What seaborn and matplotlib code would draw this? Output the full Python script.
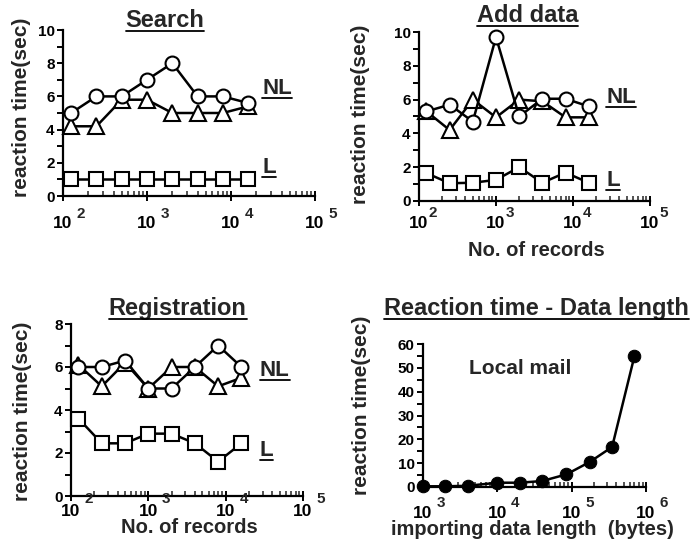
import numpy as np
import matplotlib
matplotlib.use("Agg")
import matplotlib.pyplot as plt
import matplotlib.ticker as mticker
from matplotlib.lines import Line2D
import seaborn as sns

# No. of records (same for the three record panels)
records = [125, 250, 500, 1000, 2000, 4000, 8000, 16000]

# Search
search_nl_circle = [5.0, 6.0, 6.0, 7.0, 8.0, 6.0, 6.0, 5.6]
search_nl_tri = [4.2, 4.2, 5.8, 5.8, 5.0, 5.0, 5.0, 5.4]
search_l = [1.0, 1.0, 1.0, 1.0, 1.0, 1.0, 1.0, 1.0]

# Add data
add_nl_circle = [5.3, 5.7, 4.7, 9.7, 5.0, 6.05, 6.05, 5.6]
add_nl_tri = [5.3, 4.2, 6.0, 4.95, 6.0, 5.9, 4.95, 4.95]
add_l = [1.65, 1.05, 1.08, 1.25, 2.0, 1.08, 1.68, 1.08]

# Registration
reg_nl_circle = [6.0, 6.0, 6.3, 5.0, 5.0, 6.0, 7.0, 6.0]
reg_nl_tri = [6.1, 5.1, 6.2, 5.0, 6.0, 6.0, 5.1, 5.5]
reg_l = [3.6, 2.45, 2.45, 2.9, 2.9, 2.45, 1.6, 2.45]

# Reaction time - data length (local mail)
data_len = [1000, 2000, 4000, 10000, 20000, 40000, 85000, 175000, 350000, 700000]
data_time = [0.3, 0.3, 0.5, 1.8, 1.8, 2.5, 5.3, 10.5, 16.8, 55.0]

sns.set_style("ticks")
plt.rcParams["font.family"] = ["Liberation Sans", "DejaVu Sans"]
plt.rcParams["font.weight"] = "bold"
plt.rcParams["axes.labelweight"] = "bold"

W, H = 697, 550
fig = plt.figure(figsize=(W / 100, H / 100), dpi=100)


def px_axes(left, right, top, bottom):
    return fig.add_axes([left / W, 1 - bottom / H, (right - left) / W, (bottom - top) / H])


def style_axes(ax, xlim, ylim, ymajor, yminor, xpad, exp_off):
    ax.set_xscale("log")
    ax.set_xlim(*xlim)
    ax.set_ylim(*ylim)
    for s in ["top", "right"]:
        ax.spines[s].set_visible(False)
    for s in ["left", "bottom"]:
        ax.spines[s].set_linewidth(1.6)
        ax.spines[s].set_color("k")
    ax.xaxis.set_major_locator(mticker.LogLocator(base=10))
    ax.xaxis.set_major_formatter(mticker.FuncFormatter(lambda v, p: "10"))
    ax.xaxis.set_minor_locator(mticker.LogLocator(base=10, subs=np.arange(2, 10)))
    ax.xaxis.set_minor_formatter(mticker.NullFormatter())
    ax.yaxis.set_major_locator(mticker.MultipleLocator(ymajor))
    ax.yaxis.set_minor_locator(mticker.MultipleLocator(yminor))
    ax.tick_params(axis="x", which="major", direction="inout", length=7, width=1.4,
                   labelsize=12.5, pad=xpad, colors="k")
    ax.tick_params(axis="x", which="minor", direction="in", length=3.5, width=1.1)
    ax.tick_params(axis="y", which="both", direction="out", length=4, width=1.4,
                   labelsize=11, pad=2, colors="k")
    # raised exponents next to each "10"
    lo, hi = int(np.log10(xlim[0])), int(np.log10(xlim[1]))
    for e in range(lo, hi + 1):
        ax.annotate(str(e), xy=(10.0 ** e, 0), xycoords=ax.get_xaxis_transform(),
                    xytext=(exp_off[0] * 0.72, exp_off[1] * 0.72),
                    textcoords="offset points", ha="center", va="center",
                    fontsize=11, annotation_clip=False)
    ax.set_facecolor("white")


def record_lines(ax, circ, tri, sq):
    common = dict(ax=ax, color="k", linewidth=1.8, markerfacecolor="white",
                  markeredgecolor="k", markeredgewidth=1.5, clip_on=False)
    sns.lineplot(x=records, y=tri, marker="^", markersize=12, **common)
    sns.lineplot(x=records, y=circ, marker="o", markersize=10, **common)
    sns.lineplot(x=records, y=sq, marker="s", markersize=9.5, **common)


def set_labels(ax, ylab_xy, xlab=None, xlab_xy=None):
    ax.set_ylabel("reaction time(sec)", fontsize=15)
    ax.yaxis.set_label_coords(*ylab_xy)
    ax.yaxis.label.set_va("center")
    if xlab is None:
        ax.set_xlabel("")
    else:
        ax.set_xlabel(xlab, fontsize=14.5)
        ax.xaxis.set_label_coords(*xlab_xy)
        ax.xaxis.label.set_va("center")


titles = []
underlined = []

# --- Search
ax1 = px_axes(63, 315, 30, 196)
record_lines(ax1, search_nl_circle, search_nl_tri, search_l)
style_axes(ax1, (1e2, 1e5), (0, 10), 2, 1, 11, (18, -18))
titles.append(ax1.text(0.405, 1.06, "Search", transform=ax1.transAxes,
                       ha="center", va="center", fontsize=17))
underlined.append(ax1.text(0.79, 0.645, "NL", transform=ax1.transAxes,
                           ha="left", va="center", fontsize=16))
underlined.append(ax1.text(0.79, 0.17, "L", transform=ax1.transAxes,
                           ha="left", va="center", fontsize=16))
set_labels(ax1, (-0.163, 0.536))

# --- Add data
ax2 = px_axes(419, 650, 32, 201)
record_lines(ax2, add_nl_circle, add_nl_tri, add_l)
style_axes(ax2, (1e2, 1e5), (0, 10), 2, 1, 7.5, (14, -12))
titles.append(ax2.text(0.47, 1.10, "Add data", transform=ax2.transAxes,
                       ha="center", va="center", fontsize=17))
underlined.append(ax2.text(0.81, 0.615, "NL", transform=ax2.transAxes,
                           ha="left", va="center", fontsize=16))
underlined.append(ax2.text(0.81, 0.124, "L", transform=ax2.transAxes,
                           ha="left", va="center", fontsize=16))
set_labels(ax2, (-0.255, 0.51), "No. of records", (0.506, -0.29))

# --- Registration
ax3 = px_axes(71, 303, 324, 496)
record_lines(ax3, reg_nl_circle, reg_nl_tri, reg_l)
style_axes(ax3, (1e2, 1e5), (0, 8), 2, 1, 2.5, (18, -3))
titles.append(ax3.text(0.46, 1.093, "Registration", transform=ax3.transAxes,
                       ha="center", va="center", fontsize=17))
underlined.append(ax3.text(0.814, 0.727, "NL", transform=ax3.transAxes,
                           ha="left", va="center", fontsize=16))
underlined.append(ax3.text(0.814, 0.267, "L", transform=ax3.transAxes,
                           ha="left", va="center", fontsize=16))
set_labels(ax3, (-0.207, 0.49), "No. of records", (0.51, -0.186))

# --- Reaction time - Data length
ax4 = px_axes(423, 646, 344, 487)
sns.lineplot(x=data_len, y=data_time, ax=ax4, color="k", linewidth=1.8,
             marker="o", markersize=9, markerfacecolor="k", markeredgecolor="k",
             clip_on=False)
style_axes(ax4, (1e3, 1e6), (0, 60), 10, 5, 10.5, (18, -16))
titles.append(ax4.text(0.51, 1.25, "Reaction time - Data length", transform=ax4.transAxes,
                       ha="center", va="center", fontsize=17))
ax4.text(0.435, 0.83, "Local mail", transform=ax4.transAxes,
         ha="center", va="center", fontsize=15)
set_labels(ax4, (-0.278, 0.57), "importing data length  (bytes)", (0.49, -0.30))

# underline titles and NL/L labels
fig.canvas.draw()
renderer = fig.canvas.get_renderer()
inv = fig.transFigure.inverted()
for t in titles + underlined:
    bb = t.get_window_extent(renderer)
    (x0, y0), (x1, _) = inv.transform([(bb.x0, bb.y0 + 1), (bb.x1, bb.y1)])
    fig.add_artist(Line2D([x0, x1], [y0, y0], transform=fig.transFigure,
                          color="k", linewidth=1.3))

fig.savefig("out.png", dpi=100, facecolor="white")
